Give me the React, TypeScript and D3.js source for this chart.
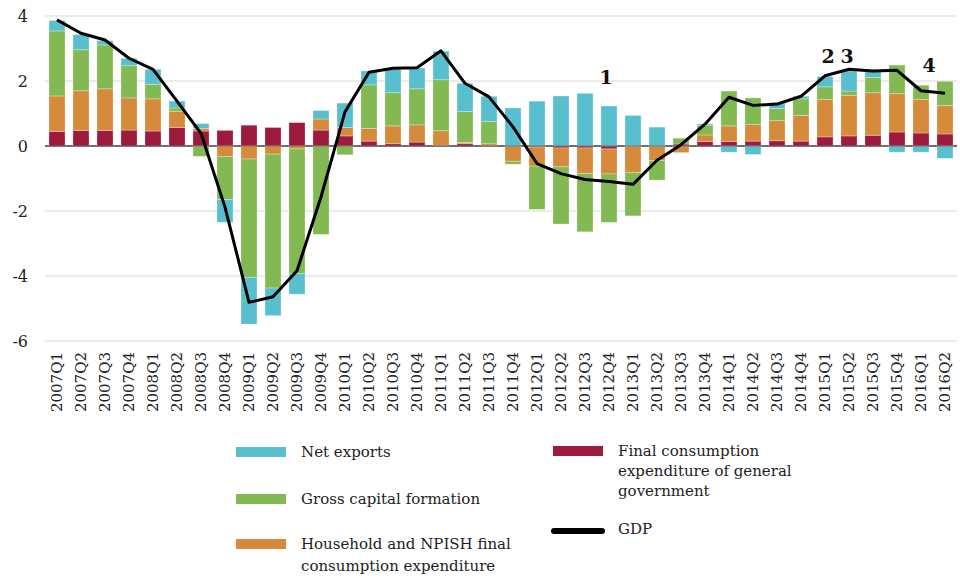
import React from 'react';
import * as d3 from 'd3';

const quarters = [
  '2007Q1', '2007Q2', '2007Q3', '2007Q4', '2008Q1', '2008Q2', '2008Q3', '2008Q4',
  '2009Q1', '2009Q2', '2009Q3', '2009Q4', '2010Q1', '2010Q2', '2010Q3', '2010Q4',
  '2011Q1', '2011Q2', '2011Q3', '2011Q4', '2012Q1', '2012Q2', '2012Q3', '2012Q4',
  '2013Q1', '2013Q2', '2013Q3', '2013Q4', '2014Q1', '2014Q2', '2014Q3', '2014Q4',
  '2015Q1', '2015Q2', '2015Q3', '2015Q4', '2016Q1', '2016Q2',
];

const government = [
  0.45, 0.48, 0.48, 0.49, 0.46, 0.57, 0.46, 0.48, 0.64, 0.57, 0.72, 0.49, 0.31, 0.15, 0.07, 0.12,
  0.02, 0.07, 0.01, 0, -0.03, -0.06, -0.06, -0.09, -0.02, 0, 0.06, 0.14, 0.14, 0.15, 0.16, 0.15,
  0.28, 0.31, 0.33, 0.43, 0.4, 0.37,
];
const household = [
  1.09, 1.22, 1.28, 0.99, 0.99, 0.5, 0.08, -0.32, -0.4, -0.25, -0.09, 0.34, 0.26, 0.39, 0.55, 0.53,
  0.45, 0.04, 0.06, -0.47, -0.59, -0.58, -0.79, -0.77, -0.8, -0.45, -0.2, 0.2, 0.48, 0.51, 0.62, 0.79,
  1.15, 1.25, 1.31, 1.18, 1.03, 0.88,
];
const capital = [
  2.0, 1.26, 1.35, 0.99, 0.45, 0.1, -0.32, -1.33, -3.64, -4.12, -3.83, -2.72, -0.27, 1.34, 1.02, 1.11,
  1.57, 0.95, 0.68, -0.09, -1.33, -1.76, -1.79, -1.49, -1.33, -0.6, 0.18, 0.3, 1.07, 0.82, 0.37, 0.51,
  0.39, 0.13, 0.47, 0.88, 0.44, 0.74,
];
const netExports = [
  0.32, 0.47, 0.13, 0.23, 0.46, 0.21, 0.15, -0.7, -1.44, -0.85, -0.64, 0.26, 0.75, 0.43, 0.73, 0.64,
  0.88, 0.87, 0.78, 1.17, 1.38, 1.54, 1.62, 1.23, 0.94, 0.58, -0.02, 0.04, -0.19, -0.26, 0.18, 0.08,
  0.32, 0.62, 0.2, -0.19, -0.19, -0.38,
];
const gdp = [
  3.88, 3.47, 3.26, 2.7, 2.36, 1.38, 0.39, -1.88, -4.81, -4.64, -3.84, -1.57, 1.05, 2.27, 2.39, 2.41,
  2.93, 1.93, 1.51, 0.59, -0.54, -0.85, -1.03, -1.09, -1.18, -0.44, 0.04, 0.67, 1.5, 1.25, 1.29, 1.53,
  2.16, 2.36, 2.31, 2.33, 1.7, 1.62,
];

const yTicks = [-6, -4, -2, 0, 2, 4];

// numbered notes above the line
const notes = [
  { label: '1', q: '2012Q4', v: 2.1, dx: -3 },
  { label: '2', q: '2015Q1', v: 2.75, dx: 3 },
  { label: '3', q: '2015Q2', v: 2.75, dx: -2 },
  { label: '4', q: '2016Q1', v: 2.48, dx: 8 },
];

const keys = ['government', 'household', 'capital', 'netExports'];
const colors: Record<string, string> = {
  government: '#9e1b3e',
  household: '#d68b3c',
  capital: '#83b952',
  netExports: '#59bfce',
};

const font = '"DejaVu Serif", serif';

export default function App() {
  const width = 960;
  const height = 578;

  const x = d3.scaleBand().domain(quarters).range([45, 957]).paddingInner(0.33).paddingOuter(0.165);
  const y = d3.scaleLinear().domain([-6, 4]).range([341, 16]);

  const rows = quarters.map((q, i) => ({
    q,
    government: government[i],
    household: household[i],
    capital: capital[i],
    netExports: netExports[i],
  }));
  const series = d3.stack<any>().keys(keys).offset(d3.stackOffsetDiverging)(rows);

  const line = d3
    .line<number>()
    .x((_, i) => (x(quarters[i]) as number) + x.bandwidth() / 2)
    .y(d => y(d));

  const legendLeft = [
    { key: 'netExports', lines: ['Net exports'], y: 452 },
    { key: 'capital', lines: ['Gross capital formation'], y: 499 },
    { key: 'household', lines: ['Household and NPISH final', 'consumption expenditure'], y: 544 },
  ];

  return (
    <svg width={width} height={height} style={{ position: 'absolute', left: 0, top: 0 }} fontFamily={font}>
      <g>
        {yTicks.map(t => (
          <g key={t}>
            <line x1={45} x2={957} y1={y(t)} y2={y(t)} stroke={t === 0 ? '#555' : '#e4e4e4'} strokeWidth={1.5} />
            <text x={28} y={y(t)} dy="0.35em" textAnchor="end" fontSize={16} fill="#222">
              {t}
            </text>
          </g>
        ))}
      </g>

      {series.map(s => (
        <g key={s.key} fill={colors[s.key]}>
          {s.map((d, i) => (
            <rect
              key={i}
              x={x(quarters[i])}
              width={x.bandwidth()}
              y={y(Math.max(d[0], d[1]))}
              height={Math.abs(y(d[0]) - y(d[1]))}
              stroke="#fff"
              strokeOpacity={0.35}
              strokeWidth={0.8}
            />
          ))}
        </g>
      ))}

      <line x1={45} x2={957} y1={y(0)} y2={y(0)} stroke="#555" strokeWidth={1.2} strokeOpacity={0.8} />

      <path d={line(gdp) ?? ''} fill="none" stroke="#000" strokeWidth={3} strokeLinejoin="round" />

      {notes.map(n => (
        <text
          key={n.label}
          x={(x(n.q) as number) + x.bandwidth() / 2 + n.dx}
          y={y(n.v)}
          dy="0.35em"
          textAnchor="middle"
          fontSize={19}
          fontWeight="bold"
          fill="#111"
        >
          {n.label}
        </text>
      ))}

      {quarters.map(q => (
        <text
          key={q}
          transform={`translate(${(x(q) as number) + x.bandwidth() / 2},352) rotate(-90)`}
          dy="0.35em"
          textAnchor="end"
          fontSize={15}
          fill="#222"
        >
          {q}
        </text>
      ))}

      <g fontSize={15} fill="#222">
        {legendLeft.map(l => (
          <g key={l.key}>
            <rect x={236} y={l.y - 5} width={50} height={10} fill={colors[l.key]} />
            {l.lines.map((t, j) => (
              <text key={j} x={301} y={l.y + j * 22} dy="0.35em">
                {t}
              </text>
            ))}
          </g>
        ))}
        <rect x={553} y={446} width={50} height={10} fill={colors.government} />
        {['Final consumption', 'expenditure of general', 'government'].map((t, j) => (
          <text key={t} x={618} y={451 + j * 20} dy="0.35em">
            {t}
          </text>
        ))}
        <line x1={554} x2={602} y1={531} y2={531} stroke="#000" strokeWidth={6} strokeLinecap="round" />
        <text x={618} y={529} dy="0.35em">
          GDP
        </text>
      </g>
    </svg>
  );
}
